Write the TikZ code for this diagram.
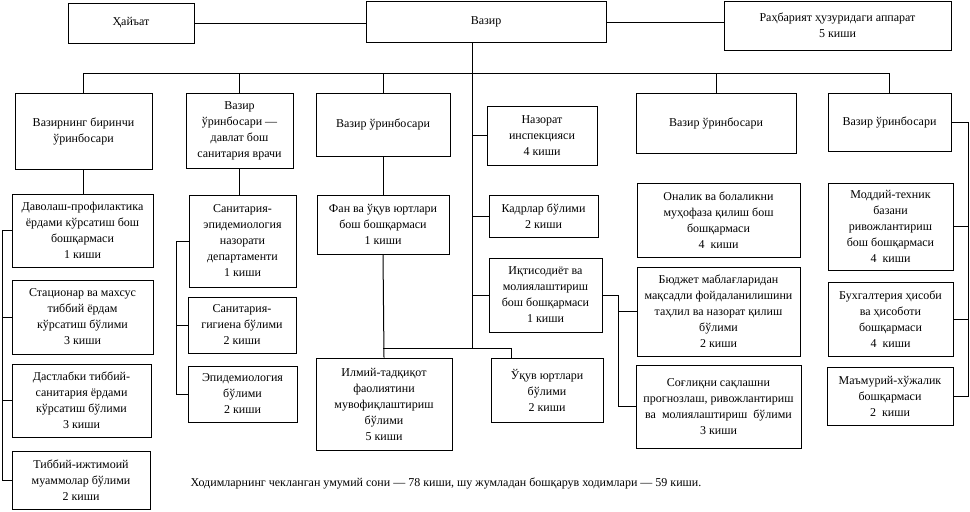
\documentclass[tikz,border=0pt]{standalone}
\usepackage{fontspec}
\setmainfont{Liberation Serif}
\tikzset{
  unit/.style={draw,align=center,inner sep=1pt,font=\fontsize{9}{12}\selectfont},
  sz/.style 2 args={minimum width=#1*0.75pt,minimum height=#2*0.75pt}
}

\begin{document}
\begin{tikzpicture}[x=0.75pt,y=-0.75pt,line width=0.75pt]
  \useasboundingbox (0,0) rectangle (970,511);

  % top row
  \node[unit,sz={126}{40}] (haiat) at (131,23) {Ҳайъат};
  \node[unit,sz={240}{41}] (vazir) at (486,22) {Вазир};
  \node[unit,sz={227}{49}] (apparat) at (837.5,25.5) {Раҳбарият ҳузуридаги аппарат\\5 киши};

  % deputies
  \node[unit,sz={137}{76}] (dep1) at (83.5,131) {Вазирнинг биринчи\\ўринбосари};
  \node[unit,sz={107}{75}] (dep2) at (239.5,130.5) {Вазир\\ўринбосари —\\давлат бош\\санитария врачи};
  \node[unit,sz={134}{63}] (dep3) at (383,124.5) {Вазир ўринбосари};
  \node[unit,sz={110}{59}] (inspect) at (542,135.5) {Назорат\\инспекцияси\\4 киши};
  \node[unit,sz={160}{60}] (dep5) at (716,123) {Вазир ўринбосари};
  \node[unit,sz={123}{58}] (dep6) at (889.5,122) {Вазир ўринбосари};

  % column 1
  \node[unit,sz={141}{73}] (c1a) at (82.5,230.5) {Даволаш-профилактика\\ёрдами кўрсатиш бош\\бошқармаси\\1 киши};
  \node[unit,sz={141}{74}] (c1b) at (82.5,317) {Стационар ва махсус\\тиббий ёрдам\\кўрсатиш бўлими\\3 киши};
  \node[unit,sz={139}{73}] (c1c) at (81.5,400.5) {Дастлабки тиббий-\\санитария ёрдами\\кўрсатиш бўлими\\3 киши};
  \node[unit,sz={138}{58}] (c1d) at (81,480) {Тиббий-ижтимоий\\муаммолар бўлими\\2 киши};

  % column 2
  \node[unit,sz={107}{92}] (c2a) at (242.5,241) {Санитария-\\эпидемиология\\назорати\\департаменти\\1 киши};
  \node[unit,sz={108}{56}] (c2b) at (242,325) {Санитария-\\гигиена бўлими\\2 киши};
  \node[unit,sz={109}{56}] (c2c) at (242.5,394) {Эпидемиология\\бўлими\\2 киши};

  % column 3
  \node[unit,sz={132}{59}] (c3a) at (383,224.5) {Фан ва ўқув юртлари\\бош бошқармаси\\1 киши};
  \node[unit,sz={136}{92}] (c3b) at (384,404) {Илмий-тадқиқот\\фаолиятини\\мувофиқлаштириш\\бўлими\\5 киши};
  \node[unit,sz={112}{64}] (c3c) at (547,390) {Ўқув юртлари\\бўлими\\2 киши};

  % trunk
  \node[unit,sz={109}{42}] (kadr) at (543.5,216) {Кадрлар бўлими\\2 киши};
  \node[unit,sz={113}{74}] (iqtis) at (545.5,295) {Иқтисодиёт ва\\молиялаштириш\\бош бошқармаси\\1 киши};

  % column 5
  \node[unit,sz={163}{74}] (onalik) at (718.5,220) {Оналик ва болаликни\\муҳофаза қилиш бош\\бошқармаси\\4~~киши};
  \node[unit,sz={163}{89}] (byudjet) at (718.5,311.5) {Бюджет маблағларидан\\мақсадли фойдаланилишини\\таҳлил ва назорат қилиш\\бўлими\\2 киши};
  \node[unit,sz={165}{83}] (sogliq) at (718.5,406.5) {Соғлиқни сақлашни\\прогнозлаш, ривожлантириш\\ва~~молиялаштириш~~бўлими\\3 киши};

  % column 6
  \node[unit,sz={125}{87}] (moddiy) at (890.5,226.5) {Моддий-техник\\базани\\ривожлантириш\\бош бошқармаси\\4~~киши};
  \node[unit,sz={125}{74}] (buxg) at (890.5,319) {Бухгалтерия ҳисоби\\ва ҳисоботи\\бошқармаси\\4~~киши};
  \node[unit,sz={126}{58}] (mamur) at (890,396) {Маъмурий-хўжалик\\бошқармаси\\2~~киши};

  \node[font=\fontsize{9}{12}\selectfont] (total) at (446,483)
    {Ходимларнинг чекланган умумий сони — 78 киши, шу жумладан бошқарув ходимлари — 59 киши.};

  \coordinate (trk) at (472,42.5);
  \coordinate (topbus) at (0,73);
  \coordinate (lowbus) at (511,348);
  \coordinate (rail1) at (2,0);
  \coordinate (rail2) at (176,0);
  \coordinate (rail5) at (618,0);
  \coordinate (rail6) at (968,0);

  % connectors
  \draw (haiat.east) -- (haiat.east -| vazir.west);
  \draw (vazir.east) -- (vazir.east -| apparat.west);
  \draw (trk) -- (trk |- lowbus);
  \draw (dep1.north |- topbus) -- (dep6.north |- topbus);
  \foreach \n in {dep1,dep2,dep3,dep5,dep6}
    \draw (\n.north) -- (\n.north |- topbus);
  \foreach \n in {inspect,kadr,iqtis}
    \draw (\n.west) -- (\n.west -| trk);

  \draw (dep1.south) -- (dep1.south |- c1a.north);
  \draw (c1a.west) -- (c1a.west -| rail1) -- (c1d.west -| rail1) -- (c1d.west);
  \foreach \n in {c1b,c1c}
    \draw (\n.west) -- (\n.west -| rail1);

  \draw (dep2.south) -- (dep2.south |- c2a.north);
  \draw (c2a.west) -- (c2a.west -| rail2) -- (c2c.west -| rail2) -- (c2c.west);
  \draw (c2b.west) -- (c2b.west -| rail2);

  \draw (dep3.south) -- (c3a.north);
  \draw (c3a.south) -- (c3b.north);
  \draw (c3a.south |- lowbus) -- (lowbus) -- (lowbus |- c3c.north);

  \draw (iqtis.east) -- (iqtis.east -| rail5) -- (sogliq.west -| rail5) -- (sogliq.west);
  \draw (byudjet.west) -- (byudjet.west -| rail5);

  \draw (dep6.east) -- (dep6.east -| rail6) -- (mamur.east -| rail6) -- (mamur.east);
  \foreach \n in {moddiy,buxg}
    \draw (\n.east) -- (\n.east -| rail6);
\end{tikzpicture}
\end{document}
